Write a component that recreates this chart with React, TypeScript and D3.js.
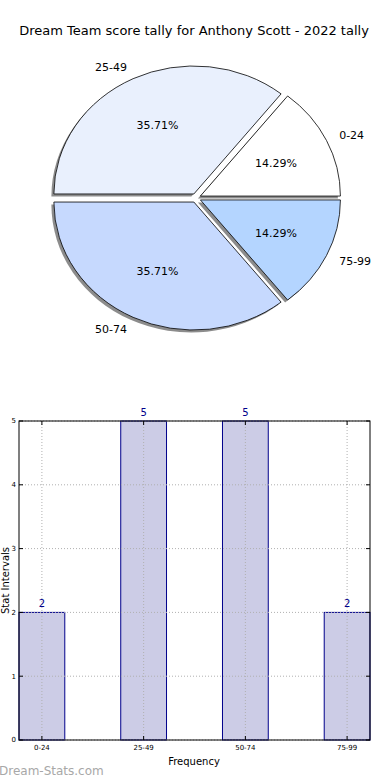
import React from 'react';
import * as d3 from 'd3';

const title = 'Dream Team score tally for Anthony Scott - 2022 tally';
const categories = ['0-24', '25-49', '50-74', '75-99'];
const counts = [2, 5, 5, 2];
const sliceColors = ['#ffffff', '#e9f0fd', '#c6d9fe', '#b4d5ff'];
const yTicks = [0, 1, 2, 3, 4, 5];

const W = 390;
const H = 780;

// pie geometry (matplotlib-like squashed pie)
const cx = 196;
const cy = 198;
const rx = 140;
const ry = 128;
const explode = 0.035;

// bar axes box
const bx0 = 19;
const bx1 = 370;
const by0 = 421;
const by1 = 740;

const font = 'DejaVu Sans, sans-serif';

const App = () => {
	const total = d3.sum(counts);
	const pie = d3
		.pie<number>()
		.sort(null)
		.startAngle(Math.PI / 2)
		.endAngle(Math.PI / 2 - 2 * Math.PI);
	const arcs = pie(counts);
	const arc = d3.arc<d3.PieArcDatum<number>>().innerRadius(0).outerRadius(1);

	const x = d3
		.scaleLinear()
		.domain([-0.225, categories.length - 1 + 0.225])
		.range([bx0, bx1]);
	const y = d3.scaleLinear().domain([0, 5]).range([by1, by0]);
	const barW = x(0.45) - x(0);

	return (
		<svg width={W} height={H} style={{ position: 'absolute', left: 0, top: 0, background: '#fff' }} fontFamily={font}>
			<rect width={W} height={H} fill="#fff" />
			<text x={194} y={35} textAnchor="middle" fontSize={13} fill="#000">
				{title}
			</text>

			{/* shadows */}
			{arcs.map((a, i) => {
				const mid = (a.startAngle + a.endAngle) / 2;
				const ox = cx + explode * rx * Math.sin(mid) - 2.5;
				const oy = cy - explode * ry * Math.cos(mid) + 2.5;
				return (
					<path
						key={'s' + i}
						d={arc(a) || ''}
						transform={`translate(${ox},${oy}) scale(${rx},${ry})`}
						fill="#000"
						fillOpacity={0.45}
					/>
				);
			})}
			{arcs.map((a, i) => {
				const mid = (a.startAngle + a.endAngle) / 2;
				const ox = cx + explode * rx * Math.sin(mid);
				const oy = cy - explode * ry * Math.cos(mid);
				return (
					<path
						key={'p' + i}
						d={arc(a) || ''}
						transform={`translate(${ox},${oy}) scale(${rx},${ry})`}
						fill={sliceColors[i]}
						stroke="#000"
						strokeWidth={0.8}
						vectorEffect="non-scaling-stroke"
					/>
				);
			})}
			{arcs.map((a, i) => {
				const mid = (a.startAngle + a.endAngle) / 2;
				const sx = Math.sin(mid);
				const sy = -Math.cos(mid);
				const ox = cx + explode * rx * sx;
				const oy = cy + explode * ry * sy;
				const pct = ((a.data / total) * 100).toFixed(2) + '%';
				return (
					<g key={'l' + i} fontSize={11} fill="#000">
						<text x={ox + 0.6 * rx * sx} y={oy + 0.6 * ry * sy} textAnchor="middle" dy="0.35em">
							{pct}
						</text>
						<text
							x={ox + 1.1 * rx * sx}
							y={oy + 1.1 * ry * sy}
							textAnchor={sx < 0 ? 'end' : 'start'}
							dy="0.35em"
						>
							{categories[i]}
						</text>
					</g>
				);
			})}

			{/* bar chart */}
			{counts.map((c, i) => (
				<rect
					key={'b' + i}
					x={x(i) - barW / 2}
					y={y(c)}
					width={barW}
					height={y(0) - y(c)}
					fill="#ccccE6"
					stroke="#00008b"
					strokeWidth={1}
				/>
			))}
			{/* grid */}
			{yTicks.map(t => (
				<line
					key={'gy' + t}
					x1={bx0}
					x2={bx1}
					y1={y(t)}
					y2={y(t)}
					stroke="#b0b0b0"
					strokeDasharray="1,2"
					strokeWidth={1}
				/>
			))}
			{categories.map((c, i) => (
				<line
					key={'gx' + i}
					x1={x(i)}
					x2={x(i)}
					y1={by0}
					y2={by1}
					stroke="#b0b0b0"
					strokeDasharray="1,2"
					strokeWidth={1}
				/>
			))}
			<rect x={bx0} y={by0} width={bx1 - bx0} height={by1 - by0} fill="none" stroke="#000" strokeWidth={1} />
			{/* ticks */}
			{yTicks.map(t => (
				<g key={'ty' + t}>
					<line x1={bx0} x2={bx0 + 4} y1={y(t)} y2={y(t)} stroke="#000" />
					<line x1={bx1} x2={bx1 - 4} y1={y(t)} y2={y(t)} stroke="#000" />
					<text x={bx0 - 3} y={y(t)} dy="0.35em" textAnchor="end" fontSize={7} fill="#000">
						{t}
					</text>
				</g>
			))}
			{categories.map((c, i) => (
				<g key={'tx' + i}>
					<line x1={x(i)} x2={x(i)} y1={by1} y2={by1 - 4} stroke="#000" />
					<line x1={x(i)} x2={x(i)} y1={by0} y2={by0 + 4} stroke="#000" />
					<text x={x(i)} y={by1 + 10} textAnchor="middle" fontSize={7} fill="#000">
						{c}
					</text>
				</g>
			))}
			{counts.map((c, i) => (
				<text key={'v' + i} x={x(i)} y={y(c) - 5} textAnchor="middle" fontSize={10} fill="#00008b">
					{c}
				</text>
			))}
			<text x={194} y={765} textAnchor="middle" fontSize={10} fill="#000">
				Frequency
			</text>
			<text transform={`translate(9,${(by0 + by1) / 2}) rotate(-90)`} textAnchor="middle" fontSize={10} fill="#000">
				Stat Intervals
			</text>
			<text x={-1} y={775} fontSize={12} fill="#a8a8a8">
				Dream-Stats.com
			</text>
		</svg>
	);
};

export default App;
